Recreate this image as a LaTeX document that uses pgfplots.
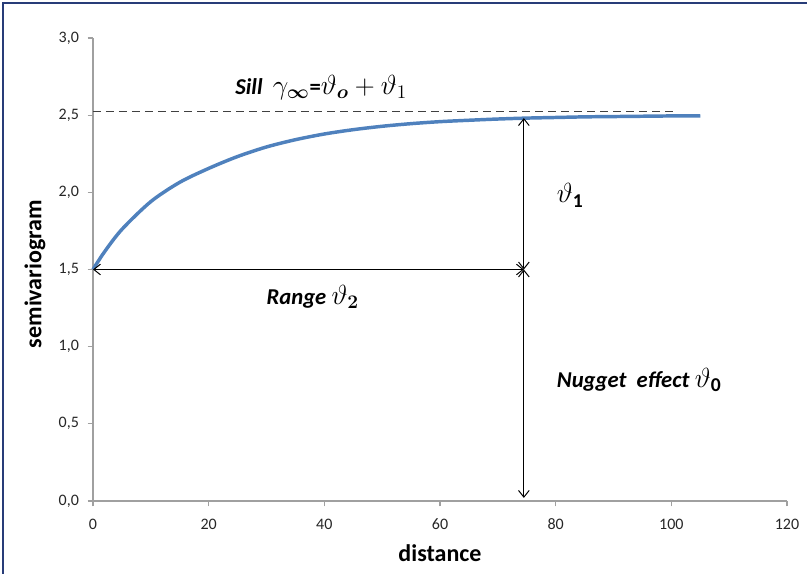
\documentclass[border=0pt]{standalone}
\usepackage{pgfplots}
\pgfplotsset{compat=1.18}
\usepackage{amsmath,bm}
\usepackage{fontspec}
\setmainfont{Carlito}
\usetikzlibrary{arrows.meta}
\definecolor{curveblue}{RGB}{79,129,189}
\definecolor{framenavy}{RGB}{40,60,120}
\definecolor{axisgray}{RGB}{160,160,160}
\newcommand{\annfont}{\fontsize{17}{20}\selectfont}
\newcommand{\tickfont}{\fontsize{12}{14}\selectfont}
\newcommand{\labfont}{\bfseries\fontsize{18}{20}\selectfont}
\newcommand{\mth}[1]{{\fontsize{21}{24}\selectfont$#1$}}
\begin{document}
\begin{tikzpicture}
\tikzset{barb/.style={line width=0.75pt,
  arrows={Straight Barb[length=5pt,width=8pt]-Straight Barb[length=5pt,width=8pt]}}}
\begin{axis}[
    scale only axis,
    width=520.5pt,
    height=347.25pt,
    xmin=0, xmax=120,
    ymin=0, ymax=3,
    xtick={0,20,...,120},
    ytick={0,0.5,...,3},
    axis x line*=bottom,
    axis y line*=left,
    axis line style={axisgray, line width=0.9pt, -},
    tick style={axisgray, line width=0.9pt},
    tick align=outside,
    major tick length=4pt,
    xticklabel={\tickfont\pgfmathprintnumber[assume math mode=true]{\tick}},
    yticklabel={\tickfont\pgfmathprintnumber[assume math mode=true,fixed,fixed zerofill,precision=1,use comma]{\tick}},
    xticklabel style={text=black!85, yshift=-6pt},
    yticklabel style={text=black!85, xshift=-3pt},
    clip=false,
]
\addplot[curveblue, line width=2.6pt, smooth] coordinates {
(0,1.500) (2,1.615) (5,1.760) (10,1.940) (15,2.065) (20,2.155) (25,2.232)
(30,2.294) (35,2.341) (40,2.378) (45,2.406) (50,2.428) (55,2.445) (60,2.458)
(65,2.467) (70,2.475) (75,2.481) (80,2.485) (85,2.489) (90,2.491) (95,2.493)
(100,2.495) (105,2.496)
};
\addplot[black!75, line width=1.2pt, dash pattern=on 6pt off 3.75pt] coordinates {(0,2.523) (100.6,2.523)};

\draw[barb] (axis cs:0,1.5) -- (axis cs:74.5,1.5);
\draw[barb] (axis cs:74.5,1.5) -- (axis cs:74.5,2.481);
\draw[barb] (axis cs:74.5,0.02) -- (axis cs:74.5,1.5);

\node[anchor=west, font=\annfont] at (axis cs:23.8,2.68)
  {\textbf{\textit{Sill}}\ \ \mth{\gamma_{\bm{\infty}}}\textbf{=}\mth{\vartheta_{\bm{o}}+\vartheta_1}};
\node[anchor=west, font=\annfont] at (axis cs:79.4,1.98) {\mth{\vartheta_{\mathbf{1}}}};
\node[font=\annfont] at (axis cs:38,1.32) {\textbf{\textit{Range}} \mth{\vartheta_{\bm{2}}}};
\node[anchor=west, font=\annfont] at (axis cs:79.4,0.785) {\textbf{\textit{Nugget\ \ effect}} \mth{\vartheta_{\mathbf{0}}}};

\node[rotate=90, font=\labfont] at (axis cs:-10.03,1.47) {semivariogram};
\node[font=\labfont] at (axis cs:60,-0.337) {distance};
\end{axis}
\path[use as bounding box] (-69.75pt,-54.75pt) rectangle (535.5pt,375.75pt);
\draw[framenavy, line width=1.2pt] (-67.5pt,-54.75pt) -- (-67.5pt,373.5pt) -- (535.5pt,373.5pt);
\end{tikzpicture}
\end{document}
